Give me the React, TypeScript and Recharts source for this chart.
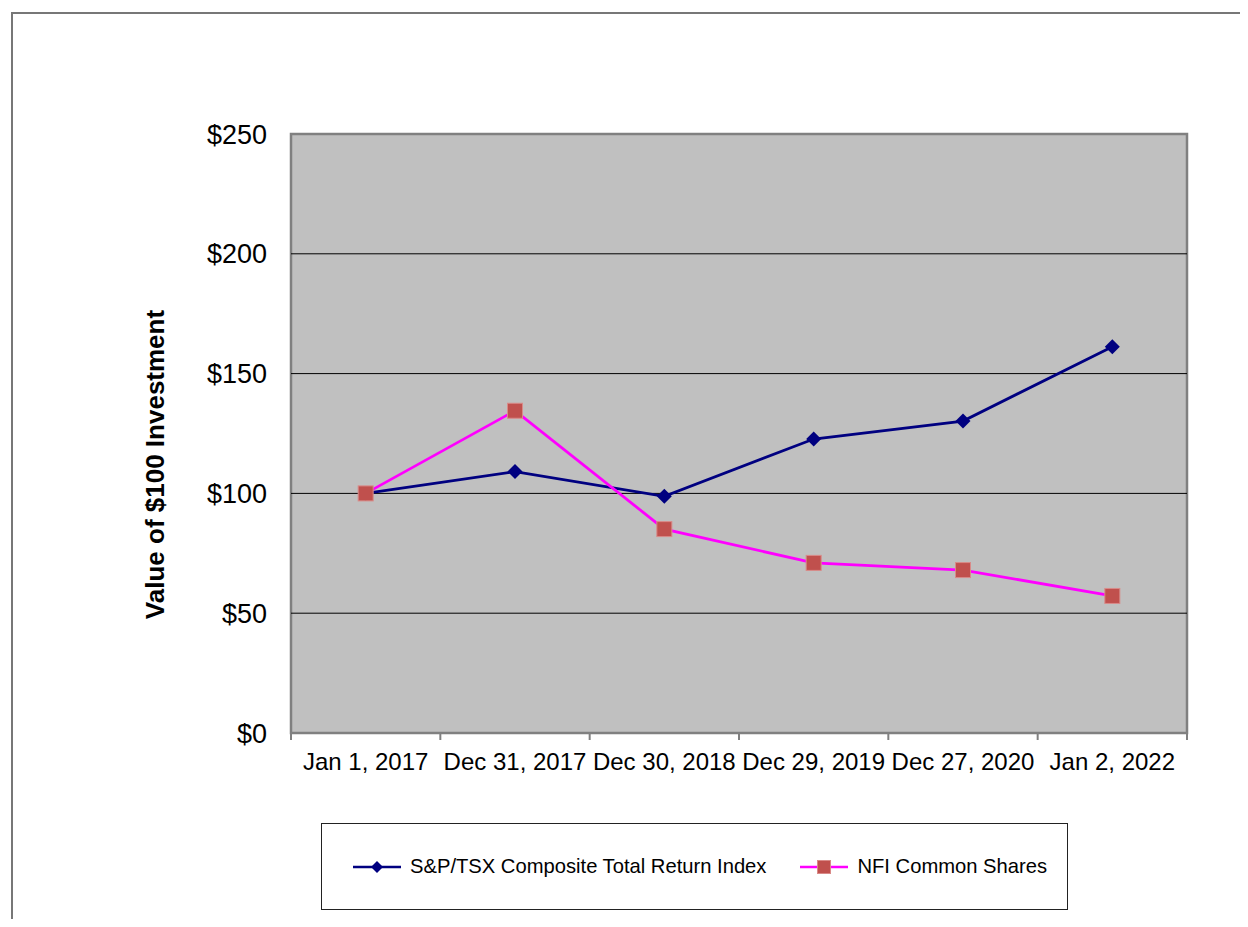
import {
  LineChart, Line, XAxis, YAxis, CartesianGrid, ReferenceLine, ReferenceArea, Legend,
} from 'recharts'

const DATES = ['Jan 1, 2017', 'Dec 31, 2017', 'Dec 30, 2018', 'Dec 29, 2019', 'Dec 27, 2020', 'Jan 2, 2022']
const TSX_VALUES = [100, 109.1, 98.8, 122.7, 130.2, 161.2]
const NFI_VALUES = [100, 134.5, 85.1, 71.0, 68.0, 57.2]
const Y_TICKS = [0, 50, 100, 150, 200, 250]
const GRID_VALUES = [50, 100, 150, 200]

// each date sits in the middle of its own band, as in a spreadsheet chart
const data = DATES.map((date, i) => ({ pos: i + 0.5, date, tsx: TSX_VALUES[i], nfi: NFI_VALUES[i] }))
const X_BOUNDS = DATES.map((_, i) => i).concat(DATES.length)

const FONT = '"Liberation Sans", Arial, sans-serif'
const NAVY = '#000080'
const PINK = '#FF00FF'
const SQUARE = '#C0504D'

const CHART_W = 1228
const CHART_H = 900
const MARGIN = { top: 120, right: 54, bottom: 141, left: 0 }
const Y_AXIS_W = 278

const SERIES_ORDER = ['tsx', 'nfi']
const SERIES_NAMES: Record<string, string> = {
  tsx: 'S&P/TSX Composite Total Return Index',
  nfi: 'NFI Common Shares',
}

function Diamond({ cx, cy, color, size }: any) {
  if (cx == null || cy == null) return null
  const r = size
  return <path d={`M${cx},${cy - r}L${cx + r},${cy}L${cx},${cy + r}L${cx - r},${cy}Z`} fill={color} />
}

function Square({ cx, cy, side }: any) {
  if (cx == null || cy == null) return null
  return <rect x={cx - side / 2} y={cy - side / 2} width={side} height={side} fill={SQUARE} stroke="#D98A88" strokeWidth={1} />
}

function DateTick({ x, y, payload, width }: any) {
  const half = width / (DATES.length * 2)
  const label = DATES[payload.value]
  return (
    <g>
      <line x1={x} y1={y} x2={x} y2={y + 7} stroke="#808080" strokeWidth={2} />
      {label && (
        <text x={x + half} y={y + 37} textAnchor="middle" fontSize={24} fontFamily={FONT} fill="#000">
          {label}
        </text>
      )}
    </g>
  )
}

function LegendBox({ payload }: any) {
  const items = [...(payload ?? [])].sort(
    (a: any, b: any) => SERIES_ORDER.indexOf(a.dataKey) - SERIES_ORDER.indexOf(b.dataKey),
  )
  return (
    <div style={{
      boxSizing: 'border-box', width: '100%', height: '100%', border: '1px solid #222',
      background: '#fff', display: 'flex', alignItems: 'center', paddingLeft: 31,
      fontFamily: FONT, fontSize: 20.2, color: '#000',
    }}>
      {items.map((p: any, i: number) => (
        <div key={p.dataKey} style={{ display: 'flex', alignItems: 'center', marginRight: i === 0 ? 34 : 0 }}>
          <svg width={48} height={20} style={{ marginRight: 9 }}>
            <line x1={0} y1={10} x2={48} y2={10} stroke={p.dataKey === 'tsx' ? NAVY : PINK} strokeWidth={2.5} />
            {p.dataKey === 'tsx'
              ? <Diamond cx={24} cy={10} color={NAVY} size={6} />
              : <Square cx={24} cy={10} side={13} />}
          </svg>
          <span style={{ whiteSpace: 'nowrap' }}>{SERIES_NAMES[p.dataKey]}</span>
        </div>
      ))}
    </div>
  )
}

export default function App() {
  return (
    <div style={{
      position: 'relative', left: 3, top: 4, width: 1235, height: 909,
      borderLeft: '2px solid #777', borderTop: '2px solid #777', background: '#fff',
    }}>
      <LineChart width={CHART_W} height={CHART_H} data={data} margin={MARGIN}>
        <CartesianGrid horizontal={false} vertical={false} fill="#C0C0C0" fillOpacity={1} />
        {GRID_VALUES.map(v => (
          <ReferenceLine key={v} y={v} stroke="#000" strokeWidth={1} />
        ))}
        <XAxis
          dataKey="pos" type="number" domain={[0, DATES.length]} ticks={X_BOUNDS} interval={0}
          height={40} axisLine={false} tickLine={false} tickSize={0} tickMargin={0}
          tick={<DateTick />}
        />
        <YAxis
          width={Y_AXIS_W} domain={[0, 250]} ticks={Y_TICKS} axisLine={false} tickLine={false}
          tickSize={0} tickMargin={24} tickFormatter={(v: number) => `$${v}`}
          tick={{ fontSize: 27, fontFamily: FONT, fill: '#000' }}
          label={{
            content: ({ viewBox }: any) => {
              const cx = viewBox.x + 142
              const cy = viewBox.y + viewBox.height / 2 + 31
              return (
                <text x={cx} y={cy} transform={`rotate(-90 ${cx} ${cy})`} textAnchor="middle"
                  dominantBaseline="central" fontSize={26} fontWeight="bold" fontFamily={FONT} fill="#000">
                  Value of $100 Investment
                </text>
              )
            },
          }}
        />
        <ReferenceArea x1={0} x2={DATES.length} y1={0} y2={250} fill="none" stroke="#808080" strokeWidth={2.5} />
        <Line
          dataKey="tsx" name={SERIES_NAMES.tsx} stroke={NAVY} strokeWidth={2.8} type="linear"
          dot={(props: any) => <Diamond key={props.index} cx={props.cx} cy={props.cy} color={NAVY} size={7.5} />}
          activeDot={false} isAnimationActive={false}
        />
        <Line
          dataKey="nfi" name={SERIES_NAMES.nfi} stroke={PINK} strokeWidth={2.8} type="linear"
          dot={(props: any) => <Square key={props.index} cx={props.cx} cy={props.cy} side={15} />}
          activeDot={false} isAnimationActive={false}
        />
        <Legend
          layout="horizontal" verticalAlign="middle" align="center"
          wrapperStyle={{ left: 308, top: 809, width: 747, height: 87 }}
          content={<LegendBox />}
        />
      </LineChart>
    </div>
  )
}
